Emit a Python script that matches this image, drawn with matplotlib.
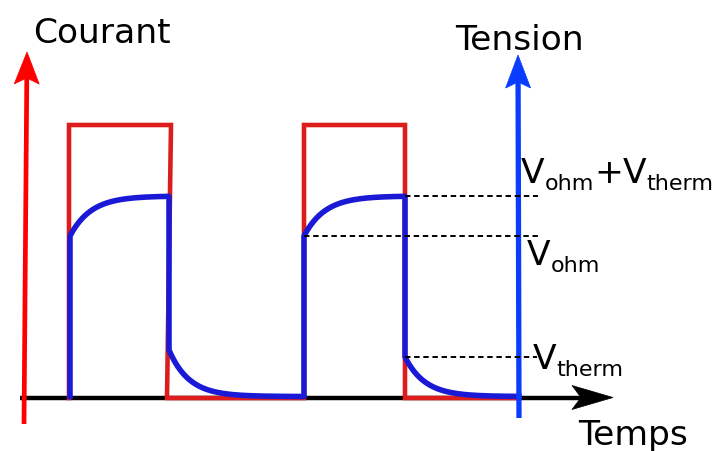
import numpy as np
import matplotlib
matplotlib.use('Agg')
import matplotlib.pyplot as plt
from matplotlib.patches import Polygon

plt.rcParams['font.family'] = ['DejaVu Sans']

# ---- data (drawing units: x = time, y = level above the time axis) ----
pulse_starts = [69, 304]          # rising edge of current pulses
pulse_ends = [171, 405]           # falling edge (top) of current pulses
fall_bottoms = [167, 405]         # falling edge (bottom) of current pulses
current_high = 273
current_low = 0
v_rise_starts = [70, 304]
v_fall_x = [169, 405]
v_ohm = 162
v_total = 202
v_therm = [48, 41]
v_rest = 1.5
tau_rise = 21
tau_fall = 20
t_end = 519
dash_end = 538

axis_labels = ['Courant', 'Tension', 'Temps']
level_labels = [
    [('V', 'main'), ('ohm', 'sub'), ('+', 'main'), ('V', 'main'), ('therm', 'sub')],
    [('V', 'main'), ('ohm', 'sub')],
    [('V', 'main'), ('therm', 'sub')],
]

fig = plt.figure(figsize=(7.15, 4.51), dpi=100)
ax = fig.add_axes([0, 0, 1, 1])
ax.set_xlim(0, 715)
ax.set_ylim(-53, 398)
ax.axis('off')


def arrow(x0, y0, x1, y1, color, lw, head_len, head_w, notch, z):
    p0 = np.array([x0, y0], float)
    p1 = np.array([x1, y1], float)
    d = p1 - p0
    u = d / np.hypot(*d)
    n = np.array([-u[1], u[0]])
    base = p1 - u * head_len
    left = base + n * head_w
    right = base - n * head_w
    nt = p1 - u * (head_len - notch)
    ax.plot([p0[0], nt[0]], [p0[1], nt[1]], color=color, lw=lw,
            solid_capstyle='butt', zorder=z)
    ax.add_patch(Polygon([p1, left, nt, right], closed=True,
                         facecolor=color, edgecolor=color, lw=0.5, zorder=z))


# time axis (black)
arrow(20, 0.5, 613, 0.5, 'black', 3.2, 41, 12, 9, 1)

# current signal (red)
cx, cy = [], []
for k, (s, e, b) in enumerate(zip(pulse_starts, pulse_ends, fall_bottoms)):
    cx += [s, s, e, b]
    cy += [current_low, current_high, current_high, current_low]
    nxt = pulse_starts[k + 1] if k + 1 < len(pulse_starts) else t_end
    cx += [nxt]
    cy += [current_low]
ax.plot(cx, cy, color='#dd1c1c', lw=3.3, solid_joinstyle='miter', zorder=2)

# voltage signal (blue)
vx, vy = [], []
for k in range(len(v_rise_starts)):
    s = v_rise_starts[k]
    f = v_fall_x[k]
    vx += [s, s]
    vy += [v_rest, v_ohm]
    t = np.linspace(0, f - s, 200)
    vx += list(s + t)
    vy += list(v_ohm + (v_total - v_ohm) * (1 - np.exp(-t / tau_rise)))
    nxt = v_rise_starts[k + 1] if k + 1 < len(v_rise_starts) else t_end
    t2 = np.linspace(0, nxt - f, 300)
    vx += list(f + t2)
    vy += list(v_rest + (v_therm[k] - v_rest) * np.exp(-t2 / tau_fall))
ax.plot(vx, vy, color='#1a1ad6', lw=4.0, solid_joinstyle='round', zorder=3)

# current axis (red) and voltage axis (blue)
arrow(24, -26, 27, 346, '#ff0000', 3.4, 32, 12.5, 6, 4)
arrow(519, -20, 518, 343, '#0a3cff', 3.8, 33, 12.5, 6, 4)

# dashed level lines
dash = dict(color='black', lw=1.4, dashes=(2.8, 1.9), zorder=5)
ax.plot([v_fall_x[1], dash_end], [v_total, v_total], **dash)
ax.plot([v_rise_starts[1], dash_end + 1], [v_ohm, v_ohm], **dash)
ax.plot([v_fall_x[1], dash_end - 1], [v_therm[1], v_therm[1]], **dash)

fs = 24.8
ax.text(33, 355, axis_labels[0], fontsize=fs, ha='left', va='baseline')
ax.text(455, 348, axis_labels[1], fontsize=fs, ha='left', va='baseline')
ax.text(578, -47, axis_labels[2], fontsize=fs, ha='left', va='baseline')

renderer = fig.canvas.get_renderer()
sub_fs = 16.0
sub_drop = 7.5


def place_label(x, y, parts):
    cur = x
    for txt, kind in parts:
        if kind == 'main':
            t = ax.text(cur, y, txt, fontsize=fs, ha='left', va='baseline')
        else:
            t = ax.text(cur, y - sub_drop, txt, fontsize=sub_fs, ha='left',
                        va='baseline')
        bb = t.get_window_extent(renderer=renderer)
        cur += bb.width


place_label(521, 215, level_labels[0])
place_label(527, 133, level_labels[1])
place_label(533, 29, level_labels[2])

fig.savefig('out.png', dpi=100)
